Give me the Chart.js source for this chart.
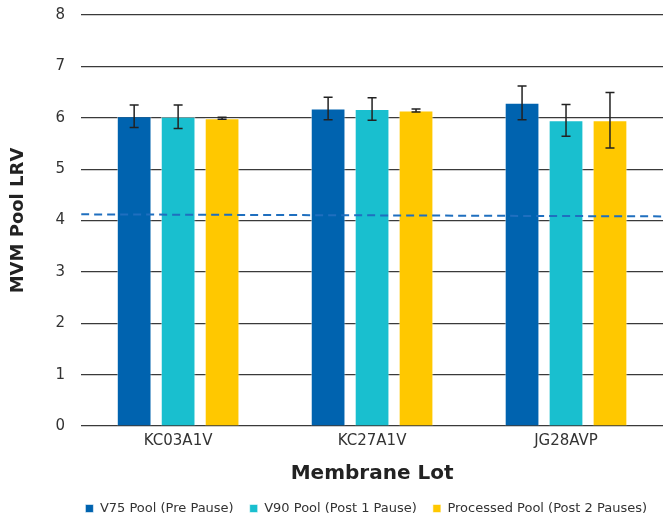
<!DOCTYPE html>
<html><head><meta charset="utf-8">
<script src="https://cdn.jsdelivr.net/npm/chart.js@4/dist/chart.umd.min.js"></script>
<style>html,body{margin:0;padding:0;background:#fff}#wrap{width:663px;height:519px}</style>
</head><body><div id="wrap"><canvas id="c" width="663" height="519"></canvas></div>
<script>
const categories = ['KC03A1V', 'KC27A1V', 'JG28AVP'];
const seriesNames = ['V75 Pool (Pre Pause)', 'V90 Pool (Post 1 Pause)', 'Processed Pool (Post 2 Pauses)'];
const v75 = [6.03, 6.18, 6.29];
const v90 = [6.02, 6.17, 5.95];
const processed = [5.99, 6.14, 5.95];
const v75Err = [0.22, 0.22, 0.33];
const v90Err = [0.23, 0.22, 0.31];
const processedErr = [0.02, 0.03, 0.54];
const limitLine = [4.12, 4.08];
const yTicks = [0, 1, 2, 3, 4, 5, 6, 7, 8];

const colors = ['#0063AF', '#19BFCF', '#FFC800'];
const FONT = 'DejaVu Sans';
const xMin = -0.5, xMax = categories.length - 0.5;

const errorBars = {
  id: 'errorBars',
  afterDatasetsDraw(chart) {
    const ctx = chart.ctx;
    const y = chart.scales.y;
    chart.data.datasets.forEach((ds, di) => {
      if (!ds.err) return;
      const meta = chart.getDatasetMeta(di);
      meta.data.forEach((bar, i) => {
        const v = ds.data[i].y, e = ds.err[i];
        const top = y.getPixelForValue(v + e), bot = y.getPixelForValue(v - e);
        ctx.save();
        ctx.strokeStyle = '#222';
        ctx.lineWidth = 1.5;
        ctx.beginPath();
        ctx.moveTo(bar.x, top); ctx.lineTo(bar.x, bot);
        ctx.moveTo(bar.x - 4.5, top); ctx.lineTo(bar.x + 4.5, top);
        ctx.moveTo(bar.x - 4.5, bot); ctx.lineTo(bar.x + 4.5, bot);
        ctx.stroke();
        ctx.restore();
      });
    });
  }
};

const barSets = [v75, v90, processed].map((d, k) => ({
  type: 'bar',
  label: seriesNames[k],
  data: d.map((v, i) => ({x: i, y: v})),
  err: [v75Err, v90Err, processedErr][k],
  backgroundColor: colors[k],
  borderColor: 'rgba(255,255,255,0.55)',
  borderWidth: 1,
  categoryPercentage: 0.68,
  barPercentage: 0.79,
  order: 2
}));

new Chart(document.getElementById('c'), {
  type: 'bar',
  data: {
    datasets: [...barSets, {
      type: 'line',
      label: 'limit',
      data: [{x: xMin, y: limitLine[0]}, {x: xMax, y: limitLine[1]}],
      borderColor: '#1F6FBF',
      borderWidth: 2,
      borderDash: [8, 5],
      pointRadius: 0,
      fill: false,
      order: 1
    }]
  },
  options: {
    responsive: false,
    animation: false,
    layout: {padding: {left: 4, right: 0, top: 0, bottom: -6}},
    plugins: {
      tooltip: {enabled: false},
      legend: {
        position: 'bottom',
        align: 'end',
        labels: {
          filter: it => it.datasetIndex < 3,
          boxWidth: 8, boxHeight: 8,
          padding: 16,
          color: '#333',
          font: {family: FONT, size: 13}
        }
      }
    },
    scales: {
      x: {
        type: 'linear',
        offset: false,
        min: xMin, max: xMax,
        afterBuildTicks: s => { s.ticks = categories.map((c, i) => ({value: i})); },
        grid: {display: false, drawTicks: false},
        border: {display: false},
        ticks: {color: '#333', font: {family: FONT, size: 15}, padding: 6, callback: v => categories[v]},
        title: {display: true, text: 'Membrane Lot', color: '#222', font: {family: FONT, size: 20, weight: 'bold'}, padding: {top: 6, bottom: 0}}
      },
      y: {
        min: 0, max: 8,
        afterBuildTicks: s => { s.ticks = yTicks.map(v => ({value: v})); },
        afterFit: s => { s.paddingTop = 15; s.paddingBottom = 9; },
        grid: {color: '#3a3a3a', lineWidth: 1.2, drawTicks: false},
        border: {display: false},
        ticks: {color: '#333', font: {family: FONT, size: 15}, padding: 16},
        title: {display: true, text: 'MVM Pool LRV', color: '#222', font: {family: FONT, size: 18, weight: 'bold'}, padding: {bottom: 10}}
      }
    }
  },
  plugins: [errorBars]
});
</script></body></html>
